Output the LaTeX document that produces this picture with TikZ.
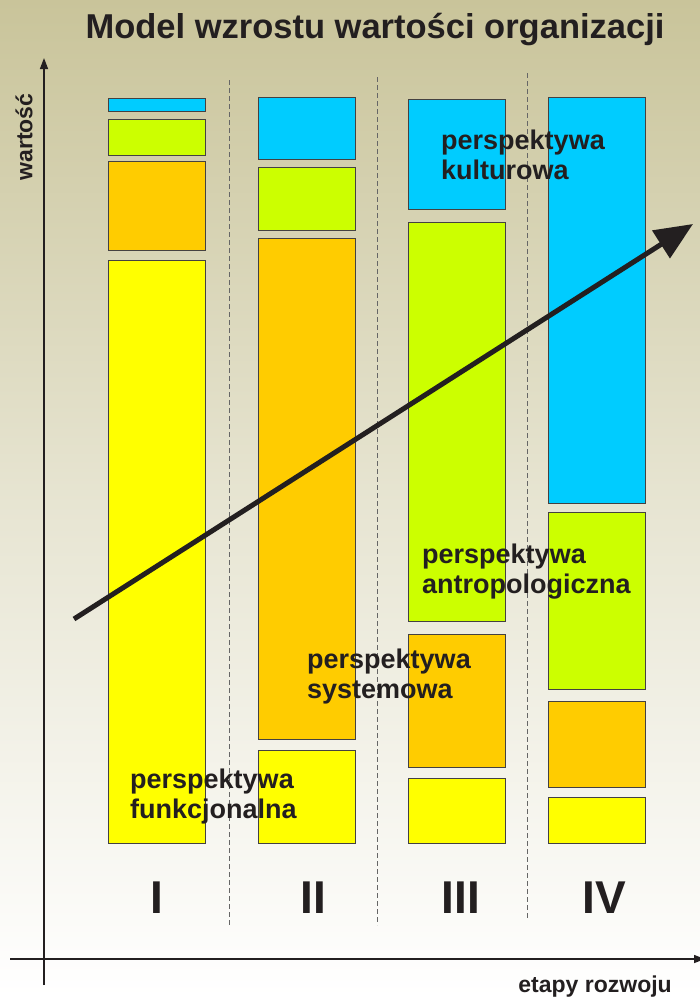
\documentclass[tikz,border=0pt]{standalone}
\usepackage{fontspec}
\setmainfont{Liberation Sans}
\usetikzlibrary{arrows.meta, positioning}
\definecolor{khaki}{RGB}{201, 196, 154}
\definecolor{inkdark}{RGB}{35, 31, 32}
\definecolor{kultcyan}{RGB}{0, 204, 255}
\definecolor{antgreen}{RGB}{204, 255, 0}
\definecolor{sysorange}{RGB}{255, 204, 0}
\definecolor{funyellow}{RGB}{255, 255, 0}

\begin{document}
\begin{tikzpicture}[
  x=1pt, y=-1pt,
  bar/.style={draw=inkdark!85, line width=0.8pt},
  sep/.style={draw=black!60, dashed, dash pattern=on 5pt off 3pt, line width=0.9pt},
  axis/.style={draw=inkdark, line width=1.4pt, -{Triangle[length=11pt, width=8pt]}},
  plabel/.style={text=inkdark, font=\bfseries\fontsize{27}{30}\selectfont, align=left, anchor=base west, inner sep=0pt},
  stage/.style={text=inkdark, font=\bfseries\fontsize{46}{46}\selectfont, anchor=base, inner sep=0pt}
]
  \useasboundingbox (0,0) rectangle (700,997);
  \shade[top color=khaki, bottom color=white, middle color=khaki!45!white] (0,0) rectangle (700,997);

  \node[text=inkdark, font=\bfseries\fontsize{34.5}{34.5}\selectfont, anchor=base, inner sep=0pt] (title) at (375,38) {Model wzrostu warto\'sci organizacji};

  % stage separators
  \draw[sep] (229,80) -- (229,925);
  \draw[sep] (377,77) -- (377,925);
  \draw[sep] (527,73) -- (527,920);

  % column I
  \draw[bar, fill=kultcyan] (108,98) rectangle (205,111);
  \draw[bar, fill=antgreen] (108,119) rectangle (205,155);
  \draw[bar, fill=sysorange] (108,161) rectangle (205,250);
  \draw[bar, fill=funyellow] (108,260) rectangle (205,843);
  % column II
  \draw[bar, fill=kultcyan] (258,97) rectangle (355,159);
  \draw[bar, fill=antgreen] (258,167) rectangle (355,230);
  \draw[bar, fill=sysorange] (258,238) rectangle (355,739);
  \draw[bar, fill=funyellow] (258,750) rectangle (355,843);
  % column III
  \draw[bar, fill=kultcyan] (408,99) rectangle (505,209);
  \draw[bar, fill=antgreen] (408,222) rectangle (505,621);
  \draw[bar, fill=sysorange] (408,634) rectangle (505,767);
  \draw[bar, fill=funyellow] (408,778) rectangle (505,843);
  % column IV
  \draw[bar, fill=kultcyan] (548,97) rectangle (645,503);
  \draw[bar, fill=antgreen] (548,512) rectangle (645,689);
  \draw[bar, fill=sysorange] (548,701) rectangle (645,787);
  \draw[bar, fill=funyellow] (548,797) rectangle (645,843);

  % axes
  \coordinate (origin) at (44,985);
  \coordinate (ytop) at (44,58);
  \coordinate (xleft) at (10,959);
  \coordinate (xright) at (705,959);
  \draw[axis] (origin) -- (ytop);
  \draw[axis] (xleft) -- (xright);
  \node[text=inkdark, font=\bfseries\fontsize{23}{23}\selectfont, rotate=90, inner sep=0pt] (yname) at (24,137) {warto\'s\'c};
  \node[text=inkdark, font=\bfseries\fontsize{23}{23}\selectfont, anchor=base east, inner sep=0pt] (xname) at (672,992) {etapy rozwoju};

  % growth arrow
  \coordinate (gstart) at (74,619);
  \coordinate (gend) at (693,224);
  \draw[draw=inkdark, line width=5pt, -{Triangle[length=38pt, width=32pt]}] (gstart) -- (gend);

  % perspectives
  \node[plabel] (kult) at (441,179) {perspektywa\\kulturowa};
  \node[plabel] (antr) at (422,593) {perspektywa\\antropologiczna};
  \node[plabel] (syst) at (307,698) {perspektywa\\systemowa};
  \node[plabel] (funk) at (130,818) {perspektywa\\funkcjonalna};

  % stages
  \node[stage] (s1) at (157,913) {I};
  \node[stage] (s2) at (313,913) {II};
  \node[stage] (s3) at (461,913) {III};
  \node[stage] (s4) at (604,913) {IV};
\end{tikzpicture}
\end{document}
